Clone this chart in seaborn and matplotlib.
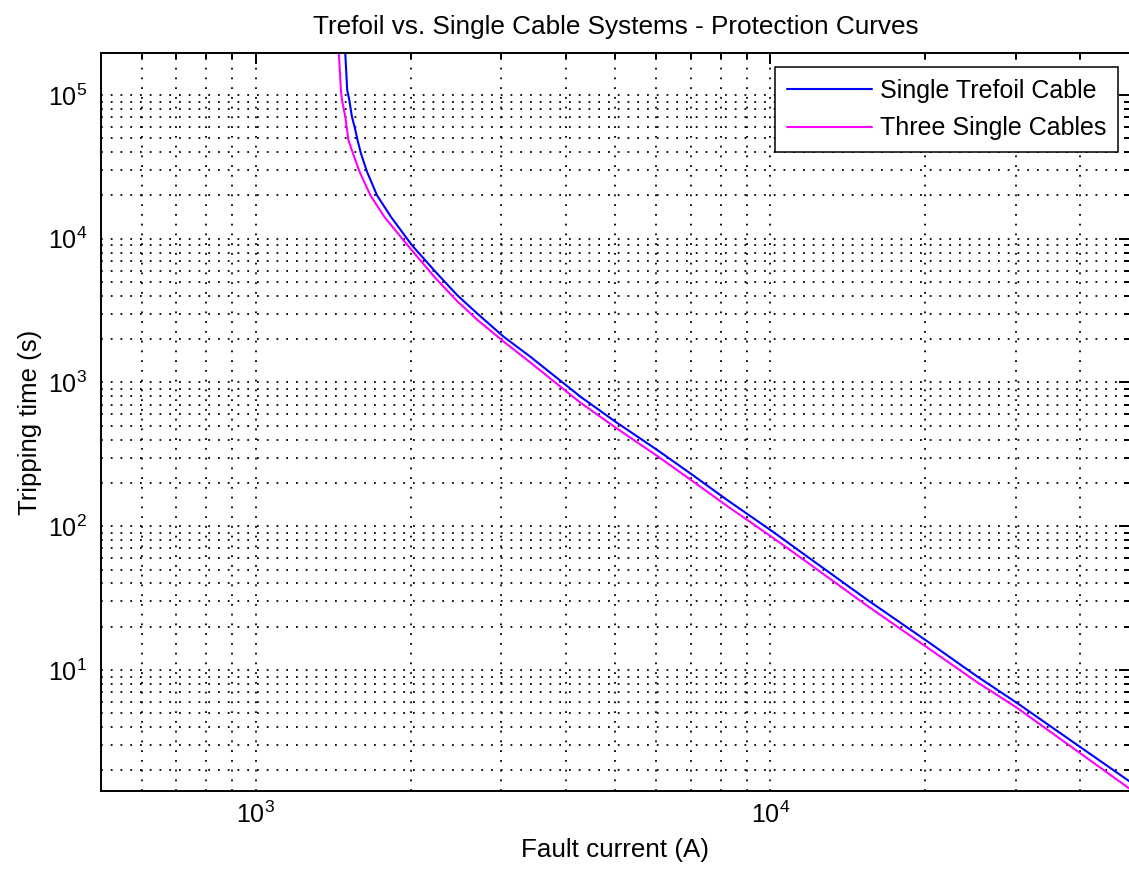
import numpy as np
import pandas as pd
import matplotlib
matplotlib.use("Agg")
import matplotlib.pyplot as plt
import matplotlib.ticker as mticker
import seaborn as sns

# Protection curve readings: fault current (A) and tripping time (s)
trefoil_current = [1476, 1505, 1519, 1537, 1555, 1576, 1600, 1644, 1719, 1830,
                   2011, 2233, 2460, 2690, 3032, 3416, 4275, 5000, 6028, 7100,
                   8246, 10161, 11800, 15440, 20200, 25270, 30230, 50000]
trefoil_time = [4.0e5, 1.08e5, 9.23e4, 7.06e4, 6.03e4, 4.86e4, 3.93e4, 2.93e4, 2.01e4, 1.42e4,
                9000, 5900, 4060, 3030, 2080, 1510, 796, 533, 339, 224,
                152, 90.5, 61.4, 30.7, 15.8, 8.98, 5.86, 1.67]

single_current = [1434, 1463, 1470, 1492, 1513, 1544, 1590, 1669, 1777, 1972,
                  2233, 2460, 2690, 3032, 3416, 4275, 5000, 6028, 7100, 8246,
                  10161, 11800, 15440, 20200, 25270, 30230, 50000]
single_time = [4.0e5, 1.08e5, 9.23e4, 7.06e4, 4.86e4, 3.93e4, 2.93e4, 2.01e4, 1.42e4, 9000,
               5330, 3690, 2740, 1923, 1377, 723, 486, 308, 203, 138,
               82.2, 56.0, 27.9, 14.3, 8.19, 5.42, 1.486]

series_names = ["Single Trefoil Cable", "Three Single Cables"]
series_colors = ["#0000ff", "#ff00ff"]

title_text = "Trefoil vs. Single Cable Systems - Protection Curves"
x_label = "Fault current (A)"
y_label = "Tripping time (s)"
x_limits = (500, 50000)
y_limits = (1.446, 1.95e5)

df = pd.concat([
    pd.DataFrame({"current": trefoil_current, "time": trefoil_time, "system": series_names[0]}),
    pd.DataFrame({"current": single_current, "time": single_time, "system": series_names[1]}),
], ignore_index=True)

sns.set_style("white")
plt.rcParams["font.family"] = ["Liberation Sans", "DejaVu Sans"]
plt.rcParams["mathtext.fontset"] = "custom"
plt.rcParams["mathtext.rm"] = "Liberation Sans"
plt.rcParams["mathtext.default"] = "regular"
for key in ["text.color", "axes.labelcolor", "xtick.color", "ytick.color"]:
    plt.rcParams[key] = "black"

W, H = 1129, 874
fig = plt.figure(figsize=(W / 100, H / 100), dpi=100)
ax_left, ax_right, ax_top, ax_bottom = 101, 1130, 53.3, 790.7
ax = fig.add_axes([ax_left / W, 1 - ax_bottom / H,
                   (ax_right - ax_left) / W, (ax_bottom - ax_top) / H])

ax.set_xscale("log")
ax.set_yscale("log")

sns.lineplot(data=df, x="current", y="time", hue="system",
             hue_order=series_names, palette=dict(zip(series_names, series_colors)),
             estimator=None, sort=False, linewidth=1.5, ax=ax)

ax.set_xlim(*x_limits)
ax.set_ylim(*y_limits)

# dotted grid on major and minor decades
ax.grid(True, which="both", color="black", linestyle=(0, (1, 4.4)), linewidth=1.3)
ax.set_axisbelow(True)

ax.xaxis.set_major_locator(mticker.LogLocator(base=10))
ax.xaxis.set_minor_locator(mticker.LogLocator(base=10, subs=np.arange(2, 10)))
ax.yaxis.set_major_locator(mticker.LogLocator(base=10))
ax.yaxis.set_minor_locator(mticker.LogLocator(base=10, subs=np.arange(2, 10), numticks=50))
ax.xaxis.set_minor_formatter(mticker.NullFormatter())
ax.yaxis.set_minor_formatter(mticker.NullFormatter())

for s in ax.spines.values():
    s.set_visible(True)
    s.set_color("black")
    s.set_linewidth(1.4)

ax.tick_params(which="both", direction="in", top=True, right=True,
               color="black", width=1.4)
ax.tick_params(which="major", length=8, labelsize=18)
ax.tick_params(which="minor", length=4.3)
ax.tick_params(axis="y", which="major", pad=10)
ax.tick_params(axis="x", which="major", pad=8)

ax.set_title(title_text, fontsize=18.8, pad=13.9)
ax.set_xlabel(x_label, fontsize=18.7)
ax.set_ylabel(y_label, fontsize=18.5)
ax.xaxis.set_label_coords(0.5, -0.0641)
ax.yaxis.set_label_coords(-0.0576, 0.5)

old = ax.get_legend()
handles = old.legend_handles
labels = [t.get_text() for t in old.get_texts()]
old.remove()
leg = ax.legend(handles, labels, loc="upper right",
                bbox_to_anchor=((1118 - ax_left) / (ax_right - ax_left),
                                (ax_bottom - 67) / (ax_bottom - ax_top)),
                borderaxespad=0, fontsize=18, frameon=True, fancybox=False,
                framealpha=1, edgecolor="black", handlelength=3.4,
                handletextpad=0.32, labelspacing=0.55, borderpad=0.465)
leg.get_frame().set_linewidth(1.1)
for h in leg.legend_handles:
    h.set_linewidth(1.5)

fig.savefig("out.png", dpi=100)
